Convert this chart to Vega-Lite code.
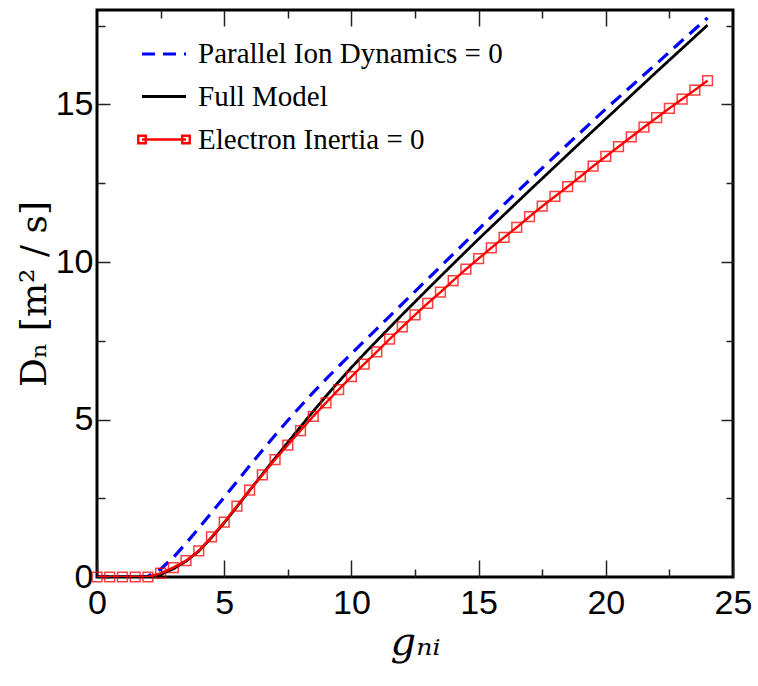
{
  "$schema": "https://vega.github.io/schema/vega-lite/v6.json",
  "width": 636,
  "height": 567,
  "autosize": {"type": "none"},
  "padding": {"left": 97, "top": 10, "right": 25, "bottom": 109},
  "background": "white",
  "config": {
    "view": {"stroke": "black", "strokeWidth": 3},
    "axis": {"grid": false, "domain": false, "tickColor": "#222", "tickWidth": 1.5, "labelFont": "Liberation Sans", "labelColor": "black", "titleColor": "black"}
  },
  "datasets": {
    "curves": [
      {"series": "Parallel Ion Dynamics = 0", "g": 0, "D": 0},
      {"series": "Parallel Ion Dynamics = 0", "g": 0.5, "D": 0},
      {"series": "Parallel Ion Dynamics = 0", "g": 1, "D": 0},
      {"series": "Parallel Ion Dynamics = 0", "g": 1.5, "D": 0},
      {"series": "Parallel Ion Dynamics = 0", "g": 2, "D": 0.02},
      {"series": "Parallel Ion Dynamics = 0", "g": 2.5, "D": 0.25},
      {"series": "Parallel Ion Dynamics = 0", "g": 3, "D": 0.62},
      {"series": "Parallel Ion Dynamics = 0", "g": 3.5, "D": 1.07},
      {"series": "Parallel Ion Dynamics = 0", "g": 4, "D": 1.55},
      {"series": "Parallel Ion Dynamics = 0", "g": 4.5, "D": 2.04},
      {"series": "Parallel Ion Dynamics = 0", "g": 5, "D": 2.53},
      {"series": "Parallel Ion Dynamics = 0", "g": 5.5, "D": 3.03},
      {"series": "Parallel Ion Dynamics = 0", "g": 6, "D": 3.53},
      {"series": "Parallel Ion Dynamics = 0", "g": 6.5, "D": 4.02},
      {"series": "Parallel Ion Dynamics = 0", "g": 7, "D": 4.5},
      {"series": "Parallel Ion Dynamics = 0", "g": 7.5, "D": 4.97},
      {"series": "Parallel Ion Dynamics = 0", "g": 8, "D": 5.42},
      {"series": "Parallel Ion Dynamics = 0", "g": 8.5, "D": 5.86},
      {"series": "Parallel Ion Dynamics = 0", "g": 9, "D": 6.28},
      {"series": "Parallel Ion Dynamics = 0", "g": 9.5, "D": 6.69},
      {"series": "Parallel Ion Dynamics = 0", "g": 10, "D": 7.09},
      {"series": "Parallel Ion Dynamics = 0", "g": 11, "D": 7.88},
      {"series": "Parallel Ion Dynamics = 0", "g": 12, "D": 8.67},
      {"series": "Parallel Ion Dynamics = 0", "g": 13, "D": 9.46},
      {"series": "Parallel Ion Dynamics = 0", "g": 14, "D": 10.25},
      {"series": "Parallel Ion Dynamics = 0", "g": 15, "D": 11.04},
      {"series": "Parallel Ion Dynamics = 0", "g": 16, "D": 11.83},
      {"series": "Parallel Ion Dynamics = 0", "g": 17, "D": 12.6},
      {"series": "Parallel Ion Dynamics = 0", "g": 18, "D": 13.36},
      {"series": "Parallel Ion Dynamics = 0", "g": 19, "D": 14.11},
      {"series": "Parallel Ion Dynamics = 0", "g": 20, "D": 14.86},
      {"series": "Parallel Ion Dynamics = 0", "g": 21, "D": 15.58},
      {"series": "Parallel Ion Dynamics = 0", "g": 22, "D": 16.3},
      {"series": "Parallel Ion Dynamics = 0", "g": 23, "D": 17.03},
      {"series": "Parallel Ion Dynamics = 0", "g": 24, "D": 17.75},
      {"series": "Full Model", "g": 0, "D": 0},
      {"series": "Full Model", "g": 0.5, "D": 0},
      {"series": "Full Model", "g": 1, "D": 0},
      {"series": "Full Model", "g": 1.5, "D": 0},
      {"series": "Full Model", "g": 2, "D": 0},
      {"series": "Full Model", "g": 2.5, "D": 0.08},
      {"series": "Full Model", "g": 3, "D": 0.26},
      {"series": "Full Model", "g": 3.5, "D": 0.5},
      {"series": "Full Model", "g": 4, "D": 0.82},
      {"series": "Full Model", "g": 4.5, "D": 1.25},
      {"series": "Full Model", "g": 5, "D": 1.72},
      {"series": "Full Model", "g": 5.5, "D": 2.23},
      {"series": "Full Model", "g": 6, "D": 2.75},
      {"series": "Full Model", "g": 6.5, "D": 3.26},
      {"series": "Full Model", "g": 7, "D": 3.77},
      {"series": "Full Model", "g": 7.5, "D": 4.27},
      {"series": "Full Model", "g": 8, "D": 4.77},
      {"series": "Full Model", "g": 8.5, "D": 5.26},
      {"series": "Full Model", "g": 9, "D": 5.74},
      {"series": "Full Model", "g": 9.5, "D": 6.2},
      {"series": "Full Model", "g": 10, "D": 6.65},
      {"series": "Full Model", "g": 10.5, "D": 7.08},
      {"series": "Full Model", "g": 11, "D": 7.5},
      {"series": "Full Model", "g": 12, "D": 8.33},
      {"series": "Full Model", "g": 13, "D": 9.14},
      {"series": "Full Model", "g": 14, "D": 9.94},
      {"series": "Full Model", "g": 15, "D": 10.73},
      {"series": "Full Model", "g": 16, "D": 11.5},
      {"series": "Full Model", "g": 17, "D": 12.27},
      {"series": "Full Model", "g": 18, "D": 13.03},
      {"series": "Full Model", "g": 19, "D": 13.79},
      {"series": "Full Model", "g": 20, "D": 14.54},
      {"series": "Full Model", "g": 21, "D": 15.29},
      {"series": "Full Model", "g": 22, "D": 16.04},
      {"series": "Full Model", "g": 23, "D": 16.78},
      {"series": "Full Model", "g": 24, "D": 17.52},
      {"series": "Electron Inertia = 0", "g": 0, "D": 0},
      {"series": "Electron Inertia = 0", "g": 0.5, "D": 0},
      {"series": "Electron Inertia = 0", "g": 1, "D": 0},
      {"series": "Electron Inertia = 0", "g": 1.5, "D": 0},
      {"series": "Electron Inertia = 0", "g": 2, "D": 0},
      {"series": "Electron Inertia = 0", "g": 2.5, "D": 0.12},
      {"series": "Electron Inertia = 0", "g": 3, "D": 0.3},
      {"series": "Electron Inertia = 0", "g": 3.5, "D": 0.52},
      {"series": "Electron Inertia = 0", "g": 4, "D": 0.83},
      {"series": "Electron Inertia = 0", "g": 4.5, "D": 1.27},
      {"series": "Electron Inertia = 0", "g": 5, "D": 1.74},
      {"series": "Electron Inertia = 0", "g": 5.5, "D": 2.25},
      {"series": "Electron Inertia = 0", "g": 6, "D": 2.76},
      {"series": "Electron Inertia = 0", "g": 6.5, "D": 3.24},
      {"series": "Electron Inertia = 0", "g": 7, "D": 3.73},
      {"series": "Electron Inertia = 0", "g": 7.5, "D": 4.19},
      {"series": "Electron Inertia = 0", "g": 8, "D": 4.65},
      {"series": "Electron Inertia = 0", "g": 8.5, "D": 5.1},
      {"series": "Electron Inertia = 0", "g": 9, "D": 5.53},
      {"series": "Electron Inertia = 0", "g": 9.5, "D": 5.95},
      {"series": "Electron Inertia = 0", "g": 10, "D": 6.36},
      {"series": "Electron Inertia = 0", "g": 10.5, "D": 6.76},
      {"series": "Electron Inertia = 0", "g": 11, "D": 7.15},
      {"series": "Electron Inertia = 0", "g": 11.5, "D": 7.55},
      {"series": "Electron Inertia = 0", "g": 12, "D": 7.94},
      {"series": "Electron Inertia = 0", "g": 12.5, "D": 8.32},
      {"series": "Electron Inertia = 0", "g": 13, "D": 8.69},
      {"series": "Electron Inertia = 0", "g": 13.5, "D": 9.04},
      {"series": "Electron Inertia = 0", "g": 14, "D": 9.41},
      {"series": "Electron Inertia = 0", "g": 14.5, "D": 9.77},
      {"series": "Electron Inertia = 0", "g": 15, "D": 10.11},
      {"series": "Electron Inertia = 0", "g": 15.5, "D": 10.45},
      {"series": "Electron Inertia = 0", "g": 16, "D": 10.78},
      {"series": "Electron Inertia = 0", "g": 16.5, "D": 11.1},
      {"series": "Electron Inertia = 0", "g": 17, "D": 11.44},
      {"series": "Electron Inertia = 0", "g": 17.5, "D": 11.77},
      {"series": "Electron Inertia = 0", "g": 18, "D": 12.08},
      {"series": "Electron Inertia = 0", "g": 18.5, "D": 12.39},
      {"series": "Electron Inertia = 0", "g": 19, "D": 12.71},
      {"series": "Electron Inertia = 0", "g": 19.5, "D": 13.04},
      {"series": "Electron Inertia = 0", "g": 20, "D": 13.35},
      {"series": "Electron Inertia = 0", "g": 20.5, "D": 13.66},
      {"series": "Electron Inertia = 0", "g": 21, "D": 13.97},
      {"series": "Electron Inertia = 0", "g": 21.5, "D": 14.28},
      {"series": "Electron Inertia = 0", "g": 22, "D": 14.58},
      {"series": "Electron Inertia = 0", "g": 22.5, "D": 14.88},
      {"series": "Electron Inertia = 0", "g": 23, "D": 15.17},
      {"series": "Electron Inertia = 0", "g": 23.5, "D": 15.46},
      {"series": "Electron Inertia = 0", "g": 24, "D": 15.76}
    ]
  },
  "data": {"name": "curves"},
  "resolve": {"axis": {"x": "independent", "y": "independent"}},
  "layer": [
    {
      "mark": {"type": "line", "clip": true},
      "encoding": {
        "x": {"field": "g", "type": "quantitative", "scale": {"domain": [0, 25], "nice": false},
          "axis": {"orient": "bottom", "values": [0, 5, 10, 15, 20, 25], "tickSize": -17, "labelFontSize": 34, "labelPadding": 26, "labelFlush": false,
            "title": "gₙᵢ", "titleFont": "DejaVu Serif", "titleFontStyle": "italic", "titleFontWeight": "normal", "titleFontSize": 40, "titlePadding": 2}},
        "y": {"field": "D", "type": "quantitative", "scale": {"domain": [0, 18], "nice": false},
          "axis": {"orient": "left", "values": [0, 5, 10, 15], "tickSize": -13, "labelFontSize": 34, "labelPadding": 17, "labelFlush": false,
            "title": "Dₙ [m² / s]", "titleFont": "DejaVu Serif", "titleFontWeight": "normal", "titleFontSize": 36, "titlePadding": 2}},
        "color": {"field": "series", "type": "nominal",
          "scale": {"domain": ["Parallel Ion Dynamics = 0", "Full Model", "Electron Inertia = 0"], "range": ["#0000ff", "#000000", "#ff0000"]},
          "legend": {"title": null, "orient": "none", "legendX": 43, "legendY": 20, "padding": 0,
            "labelFont": "Liberation Serif", "labelFontSize": 29, "labelColor": "black", "labelOffset": 10, "labelLimit": 400,
            "symbolSize": 1936, "rowPadding": 4,
            "encode": {"symbols": {"update": {
              "shape": {"signal": "datum.value === 'Electron Inertia = 0' ? 'M-1,0H1M-1.17,-0.17H-0.83V0.17H-1.17ZM0.83,-0.17H1.17V0.17H0.83Z' : 'M-1,0H1'"},
              "strokeDash": {"signal": "datum.value === 'Parallel Ion Dynamics = 0' ? [14, 8] : [1, 0]"},
              "fill": {"value": "transparent"},
              "strokeWidth": {"value": 3}
            }}}}},
        "strokeDash": {"field": "series", "type": "nominal",
          "scale": {"domain": ["Parallel Ion Dynamics = 0", "Full Model", "Electron Inertia = 0"], "range": [[13, 8], [1, 0], [1, 0]]}, "legend": null},
        "strokeWidth": {"field": "series", "type": "nominal",
          "scale": {"domain": ["Parallel Ion Dynamics = 0", "Full Model", "Electron Inertia = 0"], "range": [3.2, 2.4, 2.6]}, "legend": null}
      }
    },
    {
      "transform": [{"filter": "datum.series === 'Electron Inertia = 0'"}],
      "mark": {"type": "point", "shape": "square", "filled": false, "size": 95, "strokeWidth": 1.5, "color": "#ff0000", "opacity": 0.75},
      "encoding": {
        "x": {"field": "g", "type": "quantitative", "axis": {"orient": "top", "values": [5, 10, 15, 20], "tickSize": -16, "labels": false, "title": null}},
        "y": {"field": "D", "type": "quantitative", "axis": {"orient": "right", "values": [5, 10, 15], "tickSize": -12, "labels": false, "title": null}}
      }
    },
    {
      "mark": {"type": "point", "opacity": 0},
      "encoding": {
        "x": {"field": "g", "type": "quantitative", "axis": {"orient": "bottom", "values": [2.5, 7.5, 12.5, 17.5, 22.5], "tickSize": -8, "labels": false, "title": null}},
        "y": {"field": "D", "type": "quantitative", "axis": {"orient": "left", "values": [2.5, 7.5, 12.5, 17.5], "tickSize": -8, "labels": false, "title": null}}
      }
    },
    {
      "mark": {"type": "point", "opacity": 0},
      "encoding": {
        "x": {"field": "g", "type": "quantitative", "axis": {"orient": "top", "values": [2.5, 7.5, 12.5, 17.5, 22.5], "tickSize": -8, "labels": false, "title": null}},
        "y": {"field": "D", "type": "quantitative", "axis": {"orient": "right", "values": [2.5, 7.5, 12.5, 17.5], "tickSize": -7, "labels": false, "title": null}}
      }
    }
  ]
}
